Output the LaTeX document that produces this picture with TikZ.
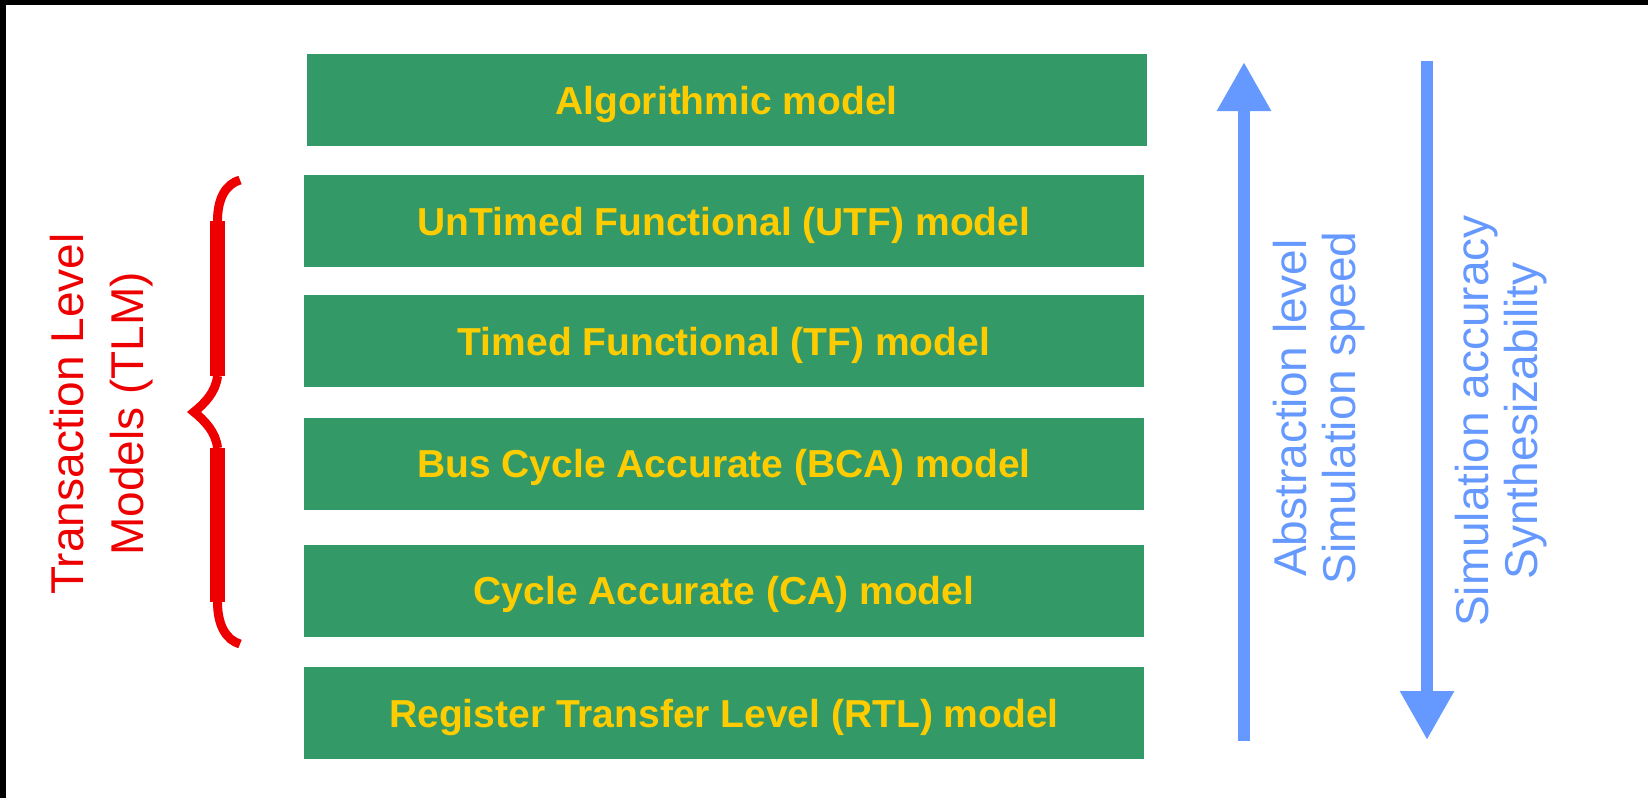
\documentclass[tikz,border=0pt]{standalone}
\usepackage{fontspec}
\setmainfont{Liberation Sans}
\usetikzlibrary{arrows.meta}

\definecolor{boxgreen}{RGB}{51,153,102}
\definecolor{boxtext}{RGB}{255,204,0}
\definecolor{tlmred}{RGB}{238,0,0}
\definecolor{axisblue}{RGB}{102,153,255}

\tikzset{
  level/.style={fill=boxgreen, text=boxtext, inner sep=0pt,
    minimum width=420pt, minimum height=46pt,
    text height=14pt, text depth=0pt,
    font=\fontsize{19.5pt}{22pt}\selectfont\bfseries},
  sidelabel/.style={rotate=90, anchor=base, inner sep=0pt,
    font=\fontsize{23pt}{26pt}\selectfont},
  tlmlabel/.style={sidelabel, text=tlmred},
  axislabel/.style={sidelabel, text=axisblue},
  axisarrow/.style={draw=axisblue, line width=6pt,
    -{Triangle[length=24.5pt,width=25.5pt]}, fill=axisblue},
  bracecurve/.style={draw=tlmred, line width=4.5pt},
}

\begin{document}
\begin{tikzpicture}[x=0.5pt,y=-0.5pt]
  \useasboundingbox (0,0) rectangle (1648,798);
  \fill[white] (0,0) rectangle (1648,798);
  % frame edges
  \fill[black] (0,0) rectangle (1648,5);
  \fill[black] (0,0) rectangle (6,798);

  % abstraction levels
  \node[level] (algo) at (726.5,100)   {Algorithmic model};
  \node[level] (utf)  at (724,221)     {UnTimed Functional (UTF) model};
  \node[level] (tf)   at (724,341)     {Timed Functional (TF) model};
  \node[level] (bca)  at (724,463.5)   {Bus Cycle Accurate (BCA) model};
  \node[level] (ca)   at (724,590.5)   {Cycle Accurate (CA) model};
  \node[level] (rtl)  at (724,713)     {Register Transfer Level (RTL) model};

  % brace grouping the transaction level models
  \draw[bracecurve] (240,180) .. controls (226,184) and (217.5,198) .. (217.5,221);
  \fill[tlmred] (210,221) rectangle (225,376);
  \draw[bracecurve] (217.5,376) .. controls (216,392) and (204,404) .. (194,412)
                                .. controls (204,420) and (216,432) .. (217.5,448);
  \fill[tlmred] (210,448) rectangle (225,602);
  \draw[bracecurve] (217.5,602) .. controls (217.5,625) and (226,640) .. (240,644);

  \node[tlmlabel] (tlmA) at (83,414)  {Transaction Level};
  \node[tlmlabel] (tlmB) at (143,414) {Models (TLM)};

  % direction arrows
  \coordinate (upfoot) at (1244,741);
  \coordinate (uphead) at (1244,62);
  \coordinate (dntop)  at (1427,61);
  \coordinate (dnhead) at (1427,740);
  \draw[axisarrow] (upfoot) -- (uphead);
  \draw[axisarrow] (dntop) -- (dnhead);

  \node[axislabel] (absA) at (1306,408) {Abstraction level};
  \node[axislabel] (absB) at (1355,408) {Simulation speed};
  \node[axislabel] (accA) at (1488,421) {Simulation accuracy};
  \node[axislabel] (accB) at (1537,421) {Synthesizability};
\end{tikzpicture}
\end{document}
